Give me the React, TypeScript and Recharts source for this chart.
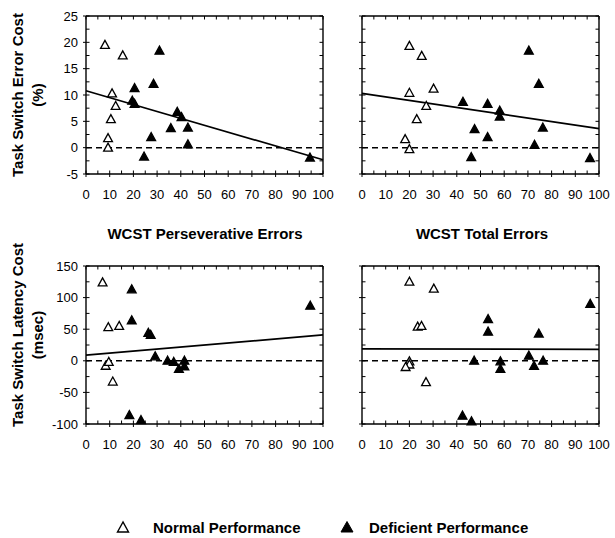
import { ScatterChart, Scatter, XAxis, YAxis, ReferenceLine } from "recharts";

// WCST scores vs task-switch costs
const errPersNormal = [
  { x: 8, y: 19.5 }, { x: 15.5, y: 17.5 }, { x: 11, y: 10.3 }, { x: 12.5, y: 7.9 },
  { x: 10.5, y: 5.4 }, { x: 9.3, y: 1.8 }, { x: 9.3, y: 0 },
];
const errPersDeficient = [
  { x: 31, y: 18.4 }, { x: 28.5, y: 12.1 }, { x: 20.5, y: 11.3 }, { x: 19.5, y: 8.9 },
  { x: 20.5, y: 8.3 }, { x: 38.5, y: 6.8 }, { x: 40.3, y: 5.8 }, { x: 43, y: 3.8 },
  { x: 35.8, y: 3.7 }, { x: 27.5, y: 2.0 }, { x: 43, y: 0.6 }, { x: 24.5, y: -1.7 },
  { x: 94.5, y: -1.9 },
];
const errTotNormal = [
  { x: 20, y: 19.3 }, { x: 25.2, y: 17.4 }, { x: 20, y: 10.4 }, { x: 30.2, y: 11.2 },
  { x: 27.1, y: 7.9 }, { x: 23.1, y: 5.4 }, { x: 18.2, y: 1.6 }, { x: 20, y: -0.3 },
];
const errTotDeficient = [
  { x: 70.4, y: 18.4 }, { x: 74.6, y: 12.1 }, { x: 42.6, y: 8.7 }, { x: 53, y: 8.3 },
  { x: 58.1, y: 7.0 }, { x: 58.1, y: 5.9 }, { x: 76.3, y: 3.8 }, { x: 47.5, y: 3.5 },
  { x: 53, y: 2.0 }, { x: 72.8, y: 0.5 }, { x: 46.1, y: -1.8 }, { x: 96.2, y: -2.0 },
];
const latPersNormal = [
  { x: 7, y: 124 }, { x: 9.4, y: 53 }, { x: 14, y: 55 }, { x: 8.3, y: -8 },
  { x: 9.6, y: -2 }, { x: 11.3, y: -33 },
];
const latPersDeficient = [
  { x: 19.3, y: 113 }, { x: 19.3, y: 64 }, { x: 26.3, y: 44 }, { x: 27.3, y: 41 },
  { x: 94.6, y: 87 }, { x: 29.2, y: 7 }, { x: 34.4, y: 0 }, { x: 37, y: -2 },
  { x: 39.2, y: -13 }, { x: 41.5, y: 0 }, { x: 41.5, y: -9 }, { x: 18.3, y: -86 },
  { x: 23.2, y: -94 },
];
const latTotNormal = [
  { x: 20, y: 125 }, { x: 30.3, y: 114 }, { x: 23.5, y: 54 }, { x: 25.1, y: 55 },
  { x: 20, y: -1 }, { x: 20, y: -6 }, { x: 18.4, y: -10 }, { x: 27, y: -34 },
];
const latTotDeficient = [
  { x: 96.3, y: 90 }, { x: 53.2, y: 66 }, { x: 53.2, y: 46 }, { x: 74.6, y: 43 },
  { x: 47.3, y: 0 }, { x: 58.4, y: -1 }, { x: 58.4, y: -13 }, { x: 70.4, y: 8 },
  { x: 72.6, y: -8 }, { x: 76.4, y: 0 }, { x: 42.4, y: -87 }, { x: 46.2, y: -96 },
];

// regression line end points
const fitErrPers = [{ x: 0, y: 10.8 }, { x: 100, y: -2.3 }];
const fitErrTot = [{ x: 0, y: 10.3 }, { x: 100, y: 3.6 }];
const fitLatPers = [{ x: 0, y: 9 }, { x: 100, y: 41 }];
const fitLatTot = [{ x: 0, y: 19 }, { x: 100, y: 18 }];

const xTicks = [0, 5, 10, 15, 20, 25, 30, 35, 40, 45, 50, 55, 60, 65, 70, 75, 80, 85, 90, 95, 100];
const errTicks = [-5, -2.5, 0, 2.5, 5, 7.5, 10, 12.5, 15, 17.5, 20, 22.5, 25];
const latTicks = [-100, -75, -50, -25, 0, 25, 50, 75, 100, 125, 150];

const FONT = '"Liberation Sans", Arial, sans-serif';
const CW = 300;
const CH = 218;
const PW = 237;
const PH = 158;

const triangle = (filled: boolean) => (props: any) => {
  const { cx, cy } = props;
  if (cx == null || cy == null) return <g />;
  const pts = `${cx},${cy - 4.6} ${cx - 4.4},${cy + 3.4} ${cx + 4.4},${cy + 3.4}`;
  return (
    <polygon
      points={pts}
      fill={filled ? "#000" : "#fff"}
      stroke="#000"
      strokeWidth={1.3}
      strokeLinejoin="miter"
    />
  );
};

function XTick(props: any) {
  const { x, y, payload } = props;
  const v = payload.value;
  const major = v % 10 === 0;
  return (
    <g>
      <line x1={x} x2={x} y1={major ? y + 3 : y} y2={y - 3.5} stroke="#000" strokeWidth={1} />
      <line x1={x} x2={x} y1={y - PH} y2={y - PH + 3.5} stroke="#000" strokeWidth={1} />
      {major && (
        <text x={x} y={y + 25} textAnchor="middle" fontSize={13} fontFamily={FONT} fill="#000">
          {v}
        </text>
      )}
    </g>
  );
}

function YTick(props: any) {
  const { x, y, payload, step, showLabel } = props;
  const v = payload.value;
  const major = Math.abs(v % step) < 1e-6;
  return (
    <g>
      <line x1={major ? x - 3 : x} x2={x + 3.5} y1={y} y2={y} stroke="#000" strokeWidth={1} />
      <line x1={x + PW - 3.5} x2={x + PW} y1={y} y2={y} stroke="#000" strokeWidth={1} />
      {major && showLabel && (
        <text x={x - 8} y={y} dy="0.36em" textAnchor="end" fontSize={13} fontFamily={FONT} fill="#000">
          {v}
        </text>
      )}
    </g>
  );
}

interface PanelProps {
  left: number;
  top: number;
  normal: { x: number; y: number }[];
  deficient: { x: number; y: number }[];
  fit: { x: number; y: number }[];
  yTicks: number[];
  step: number;
  showLabel: boolean;
}

function Panel({ left, top, normal, deficient, fit, yTicks, step, showLabel }: PanelProps) {
  const yMin = yTicks[0];
  const yMax = yTicks[yTicks.length - 1];
  return (
    <div style={{ position: "absolute", left, top }}>
      <ScatterChart width={CW} height={CH} margin={{ top: 16, right: 17, left: 10, bottom: CH - 16 - PH - 26 }}>
        <XAxis
          type="number"
          dataKey="x"
          domain={[0, 100]}
          ticks={xTicks}
          interval={0}
          height={26}
          tickSize={0}
          tickMargin={0}
          tickLine={false}
          axisLine={{ stroke: "#000", strokeWidth: 1.4 }}
          tick={(p: any) => <XTick {...p} />}
        />
        <YAxis
          type="number"
          dataKey="y"
          domain={[yMin, yMax]}
          ticks={yTicks}
          interval={0}
          width={36}
          tickSize={0}
          tickMargin={0}
          tickLine={false}
          axisLine={{ stroke: "#000", strokeWidth: 1.4 }}
          tick={(p: any) => <YTick {...p} step={step} showLabel={showLabel} />}
        />
        <ReferenceLine x={100} stroke="#000" strokeWidth={1.4} />
        <ReferenceLine y={yMax} stroke="#000" strokeWidth={1.4} />
        <ReferenceLine y={0} stroke="#000" strokeWidth={1.5} strokeDasharray="6 4" />
        <ReferenceLine segment={fit} stroke="#000" strokeWidth={1.7} />
        <Scatter data={normal} shape={triangle(false)} isAnimationActive={false} />
        <Scatter data={deficient} shape={triangle(true)} isAnimationActive={false} />
      </ScatterChart>
    </div>
  );
}

export default function App() {
  const textStyle = { fontFamily: FONT, fontSize: 15, fontWeight: 700, fill: "#000" } as const;
  return (
    <div style={{ position: "absolute", left: 0, top: 0, width: 615, height: 538, background: "#fff" }}>
      <svg width={615} height={538} style={{ position: "absolute", left: 0, top: 0 }}>
        <text x={205} y={238.5} textAnchor="middle" style={textStyle}>WCST Perseverative Errors</text>
        <text x={482} y={238.5} textAnchor="middle" style={textStyle}>WCST Total Errors</text>
        <g transform="translate(18 95) rotate(-90)">
          <text x={0} y={0} dy="0.36em" textAnchor="middle" style={textStyle}>Task Switch Error Cost</text>
        </g>
        <g transform="translate(38 95) rotate(-90)">
          <text x={0} y={0} dy="0.36em" textAnchor="middle" style={textStyle}>(%)</text>
        </g>
        <g transform="translate(18 335) rotate(-90)">
          <text x={0} y={0} dy="0.36em" textAnchor="middle" style={textStyle}>Task Switch Latency Cost</text>
        </g>
        <g transform="translate(38 335) rotate(-90)">
          <text x={0} y={0} dy="0.36em" textAnchor="middle" style={textStyle}>(msec)</text>
        </g>
        <polygon points="123,522 117.5,532 128.5,532" fill="#fff" stroke="#000" strokeWidth={1.4} />
        <text x={153} y={533} style={textStyle}>Normal Performance</text>
        <polygon points="347,521.5 341,532 353,532" fill="#000" stroke="#000" strokeWidth={1} />
        <text x={369} y={533} style={textStyle}>Deficient Performance</text>
      </svg>
      <Panel left={40} top={0} normal={errPersNormal} deficient={errPersDeficient} fit={fitErrPers}
        yTicks={errTicks} step={5} showLabel />
      <Panel left={316} top={0} normal={errTotNormal} deficient={errTotDeficient} fit={fitErrTot}
        yTicks={errTicks} step={5} showLabel={false} />
      <Panel left={40} top={250} normal={latPersNormal} deficient={latPersDeficient} fit={fitLatPers}
        yTicks={latTicks} step={50} showLabel />
      <Panel left={316} top={250} normal={latTotNormal} deficient={latTotDeficient} fit={fitLatTot}
        yTicks={latTicks} step={50} showLabel={false} />
    </div>
  );
}
